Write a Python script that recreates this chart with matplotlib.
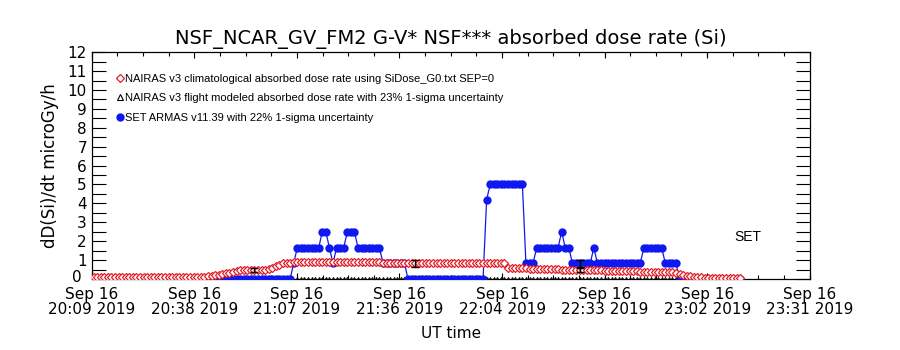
# NSF_NCAR_GV_FM2 absorbed dose rate (Si) - NAIRAS vs SET ARMAS
import numpy as np
import matplotlib
matplotlib.use("Agg")
import matplotlib.pyplot as plt
from matplotlib.ticker import MultipleLocator, AutoMinorLocator, FuncFormatter

plt.rcParams["font.family"] = ["DejaVu Sans"]
NARROW = ["Liberation Sans Narrow", "Liberation Sans", "DejaVu Sans"]

# time in minutes after 20:00 UT, one sample per minute (20:10 .. 23:11)
t_start, t_end = 10, 191

# SET ARMAS, run-length levels
set_levels = [0, 0, 0.83, 1.65, 2.5, 1.65, 0.83, 1.65, 2.5, 1.65, 0.83, 0,
              4.2, 5.0, 0.83, 1.65, 2.5, 1.65, 0.83, 1.65, 0.83, 1.65, 0.83, 0]
set_counts = [55, 1, 1, 7, 2, 1, 1, 3, 3, 7, 7, 22,
              1, 10, 3, 7, 1, 2, 6, 1, 13, 6, 4, 18]

# NAIRAS climatological
nairas_clim = [
    0.08, 0.08, 0.08, 0.08, 0.08, 0.08, 0.08, 0.08, 0.08, 0.08,
    0.08, 0.08, 0.08, 0.08, 0.08, 0.08, 0.08, 0.08, 0.08, 0.08,
    0.08, 0.08, 0.08, 0.08, 0.08, 0.08, 0.08, 0.08, 0.08, 0.08,
    0.09, 0.11, 0.14, 0.16, 0.19, 0.22, 0.26, 0.29, 0.33, 0.37,
    0.43, 0.46, 0.48, 0.48, 0.48, 0.48, 0.48, 0.48, 0.48, 0.52,
    0.60, 0.68, 0.76, 0.82, 0.86, 0.87, 0.88, 0.88, 0.89, 0.89,
    0.90, 0.91, 0.90, 0.90, 0.91, 0.90, 0.90, 0.90, 0.91, 0.90,
    0.90, 0.91, 0.90, 0.90, 0.90, 0.91, 0.90, 0.90, 0.90, 0.89,
    0.88, 0.86, 0.84, 0.83, 0.83, 0.83, 0.83, 0.83, 0.83, 0.83,
    0.83, 0.83, 0.83, 0.83, 0.83, 0.83, 0.83, 0.83, 0.83, 0.83,
    0.83, 0.83, 0.83, 0.83, 0.83, 0.83, 0.83, 0.83, 0.83, 0.83,
    0.83, 0.83, 0.83, 0.83, 0.83, 0.83, 0.58, 0.58, 0.57, 0.57,
    0.56, 0.56, 0.55, 0.55, 0.54, 0.54, 0.53, 0.53, 0.52, 0.52,
    0.51, 0.50, 0.50, 0.49, 0.49, 0.48, 0.48, 0.47, 0.47, 0.46,
    0.46, 0.45, 0.45, 0.44, 0.44, 0.43, 0.43, 0.42, 0.42, 0.41,
    0.41, 0.40, 0.40, 0.39, 0.39, 0.38, 0.38, 0.37, 0.37, 0.36,
    0.36, 0.35, 0.35, 0.30, 0.26, 0.22, 0.18, 0.15, 0.12, 0.10,
    0.08, 0.06, 0.05, 0.05, 0.05, 0.05, 0.05, 0.05, 0.05, 0.05,
    0.05, 0.05,
]

# NAIRAS flight modeled (zero where not modeled) and uncertainty points
flight_t = list(range(67, 174))
flight_val = [0.0] * len(flight_t)
err_t = [55, 100, 146, 146]
err_val = [0.48, 0.80, 0.48, 0.83]
err_sig = [0.11, 0.18, 0.11, 0.18]

tick_min = [9.5, 38.2, 66.9, 95.6, 124.4, 153.1, 181.8, 210.5]
tick_lab = ["20:09", "20:38", "21:07", "21:36", "22:04", "22:33", "23:02", "23:31"]

t = np.arange(t_start, t_end + 1)
set_val = np.repeat(set_levels, set_counts)

RED = "#e0202a"
BLUE = "#1018f0"

fig = plt.figure(figsize=(9, 3.5), dpi=100)
ax = fig.add_axes([0.102, 0.203, 0.798, 0.648])

ax.plot(flight_t, flight_val, ls="none", marker="^", ms=3, mfc="none",
        mec="black", mew=0.7, zorder=2)
ax.plot(t, set_val, color=BLUE, lw=0.9, marker="o", ms=6, mec=BLUE, mfc=BLUE,
        mew=0, zorder=3)
ax.plot(t, nairas_clim, ls="none", marker="D", ms=3.6, mfc="white", mec=RED,
        mew=0.9, zorder=4)
ax.errorbar(err_t, err_val, yerr=err_sig, fmt="none", ecolor="black",
            elinewidth=1, capsize=3, capthick=1, zorder=5)

ax.text(193, 2.2, "SET", fontsize=10, ha="center", va="center", family=NARROW)

# legend
h_red = plt.Line2D([], [], ls="none", marker="D", ms=4, mfc="white", mec=RED, mew=0.9)
h_blk = plt.Line2D([], [], ls="none", marker="^", ms=4.5, mfc="none", mec="black", mew=0.8)
h_blu = plt.Line2D([], [], ls="none", marker="o", ms=5, mfc=BLUE, mec=BLUE)
labels = ["NAIRAS v3 climatological absorbed dose rate using SiDose_G0.txt SEP=0",
          "NAIRAS v3 flight modeled absorbed dose rate with 23% 1-sigma uncertainty",
          "SET ARMAS v11.39 with 22% 1-sigma uncertainty"]
ax.legend([h_red, h_blk, h_blu], labels, loc="upper left",
          bbox_to_anchor=(0.035, 0.905), frameon=False,
          prop={"family": NARROW, "size": 8},
          handlelength=0.6, handletextpad=0.15, labelspacing=0.85,
          borderaxespad=0, borderpad=0)

ax.set_xlim(tick_min[0], tick_min[-1])
ax.set_ylim(0, 12)
ax.set_xticks(tick_min)
ax.set_xticklabels([f"Sep 16\n{s} 2019" for s in tick_lab], fontsize=11,
                   linespacing=0.95)
ax.xaxis.set_minor_locator(AutoMinorLocator(4))
ax.yaxis.set_major_locator(MultipleLocator(1))
ax.yaxis.set_minor_locator(MultipleLocator(0.5))
# the "0" sits a little higher than its tick in the original, drawn below
ax.yaxis.set_major_formatter(FuncFormatter(lambda v, p: "" if v == 0 else f"{v:.0f}"))
ax.tick_params(axis="y", which="both", direction="in", length=10, width=0.8,
               left=True, right=True, labelsize=11)
ax.tick_params(axis="x", which="major", direction="in", length=4, width=0.8,
               top=True, bottom=True, pad=6)
ax.tick_params(axis="x", which="minor", direction="in", length=3, width=0.8,
               top=True, bottom=True)
for s in ax.spines.values():
    s.set_linewidth(0.9)

ax.text(-0.014, -0.012, "0", transform=ax.transAxes, ha="right", va="baseline",
        fontsize=11)

ax.set_title("NSF_NCAR_GV_FM2 G-V* NSF*** absorbed dose rate (Si)",
             fontsize=14, pad=6)
ax.set_ylabel("dD(Si)/dt microGy/h", fontsize=12, labelpad=6)
ax.set_xlabel("UT time", fontsize=11, labelpad=7)

fig.savefig("out.png", dpi=100)
